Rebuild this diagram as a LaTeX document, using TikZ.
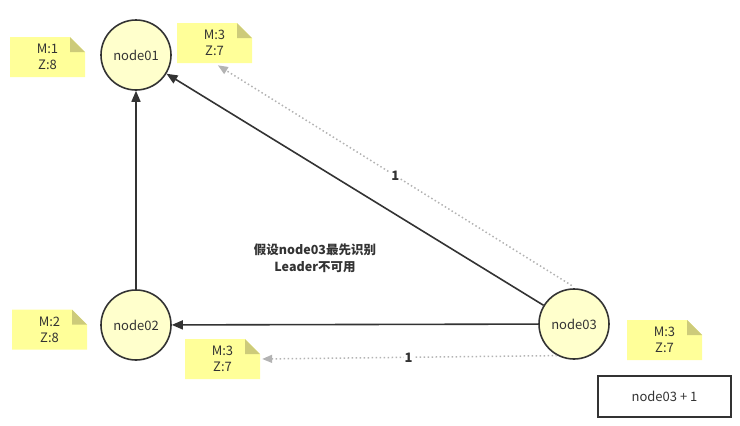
\documentclass[tikz,border=0pt]{standalone}
\usepackage{fontspec}
\setmainfont{Noto Sans CJK SC}
\usetikzlibrary{arrows.meta,calc}
\definecolor{txt}{HTML}{333333}
\definecolor{circfill}{HTML}{FFFFCC}
\definecolor{notefill}{HTML}{FFFF99}
\definecolor{foldfill}{HTML}{CDCB7A}
\definecolor{dotgray}{HTML}{B3B3B3}
\tikzset{
  srv/.style={circle, draw=txt, line width=1.6pt, fill=circfill, minimum size=70pt, inner sep=0pt, text=txt, font=\fontsize{13}{15}\selectfont},
  notebox/.style={rectangle, minimum width=75pt, minimum height=40pt, inner sep=0pt, align=center, text=txt,
    font=\fontsize{13}{16}\selectfont,
    path picture={
      \fill[notefill] (path picture bounding box.south west) -- (path picture bounding box.north west)
        -- ([xshift=-15pt]path picture bounding box.north east) -- ([yshift=-15pt]path picture bounding box.north east)
        -- (path picture bounding box.south east) -- cycle;
      \fill[foldfill] ([xshift=-15pt]path picture bounding box.north east)
        -- ([xshift=-15pt,yshift=-15pt]path picture bounding box.north east)
        -- ([yshift=-15pt]path picture bounding box.north east) -- cycle;
    }},
  solidarrow/.style={draw=txt, line width=1.6pt, -{Triangle[length=11pt,width=9pt]}},
  dotarrow/.style={draw=dotgray, line width=1.5pt, dash pattern=on 1.5pt off 2.5pt, -{Triangle[length=10pt,width=8pt,fill=dotgray]}},
  lbl/.style={fill=white, inner sep=1pt, text=txt, font=\bfseries\fontsize{13}{15}\selectfont},
  plainbox/.style={rectangle, draw=txt, line width=1.6pt, minimum width=133pt, minimum height=41pt, text=txt, font=\fontsize{13}{15}\selectfont},
  caption/.style={align=center, text=txt, font=\bfseries\fontsize{12.5}{17}\selectfont}
}
\begin{document}
\begin{tikzpicture}[x=1pt,y=-1pt]
\useasboundingbox (0,0) rectangle (740,426);
\node[srv] (n1) at (136,55) {node01};
\node[srv] (n2) at (136,325) {node02};
\node[srv] (n3) at (574,324) {node03};
\node[notebox] (m1) at (47.5,57) {M:1\\Z:8};
\node[notebox] (m2) at (214.5,43) {M:3\\Z:7};
\node[notebox] (m3) at (49.5,329.5) {M:2\\Z:8};
\node[notebox] (m4) at (222.5,359) {M:3\\Z:7};
\node[notebox] (m5) at (664.5,340) {M:3\\Z:7};
\node[plainbox] (b1) at (664.5,396.5) {node03 + 1};
\node[caption] (c1) at (315,258.5) {假设node03最先识别\\Leader不可用};
\draw[solidarrow] (n2) -- (n1);
\draw[solidarrow] (n3) -- (n1);
\draw[solidarrow] (n3) -- (n2);
\draw[dotarrow, shorten <=5pt, shorten >=4pt] ([xshift=2pt]n3.north) -- node[lbl] {1} (m2.south);
\draw[dotarrow, shorten >=2pt] (n3.242) -- node[lbl] {1} (m4.east);
\end{tikzpicture}
\end{document}
